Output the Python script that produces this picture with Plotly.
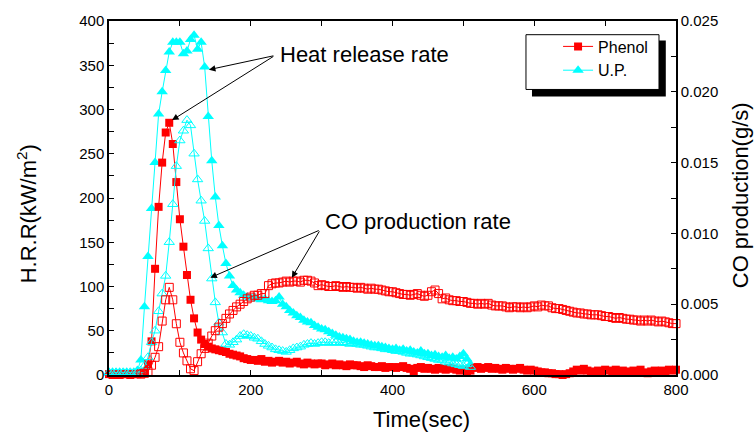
import plotly.graph_objects as go

# ---------------- data ----------------
# sampling every 5 s; each row below = 10 samples (50 s)
phenol_hrr = [
    1, 0, 1, 0, 1, 1, 0, 1, 1, 2,
    3, 12, 38, 120, 190, 240, 274, 285, 261, 218,
    176, 145, 113, 85, 64, 48, 40, 35, 32, 30,
    29, 28, 27, 26, 24, 23, 22, 21, 19, 18,
    17, 17, 16, 18, 15, 16, 14, 15, 16, 14,
    15, 13, 14, 15, 13, 12, 14, 13, 12, 13,
    13, 11, 12, 13, 11, 12, 11, 10, 12, 11,
    11, 10, 9, 11, 10, 9, 9, 10, 8, 9,
    9, 8, 9, 10, 8, 7, 3, 8, 9, 7,
    8, 7, 6, 8, 7, 6, 8, 7, 6, 5,
    6, 4, 5, 8, 9, 7, 8, 9, 7, 8,
    7, 6, 8, 7, 6, 7, 8, 6, 5, 6,
    5, 4, 3, 3, 2, 2, 1, 1, 0, 1,
    2, 4, 6, 5, 7, 5, 4, 3, 5, 4,
    6, 5, 4, 6, 3, 5, 4, 3, 5, 4,
    6, 3, 2, 4, 5, 3, 5, 4, 6, 5,
    6,
]

up_hrr = [
    2, 3, 2, 3, 2, 3, 2, 3, 5, 17,
    77, 134, 188, 240, 295, 320, 344, 365, 376, 376,
    376, 363, 366, 379, 384, 368, 376, 348, 292, 242,
    201, 169, 146, 126, 112, 101, 96, 93, 90, 88,
    87, 88, 86, 85, 86, 84, 83, 84, 88, 80,
    77, 73, 70, 67, 65, 62, 60, 59, 56, 54,
    52, 51, 49, 47, 45, 43, 42, 41, 40, 38,
    37, 37, 36, 35, 34, 33, 33, 32, 31, 30,
    29, 30, 28, 29, 27, 28, 26, 25, 27, 24,
    24, 22, 23, 21, 20, 22, 19, 20, 18, 21,
    24, 18, 12,
]

phenol_co = [
    -0.00012, -0.00012, -0.00019, -0.00019, -0.00012, -0.00019, -0.00012, -0.00012, -0.00006, 0.00006,
    0.00012, 0.00025, 0.00069, 0.00125, 0.00200, 0.00381, 0.00531, 0.00619, 0.00531, 0.00362,
    0.00231, 0.00156, 0.00100, 0.00044, 0.00031, 0.00094, 0.00150, 0.00188, 0.00225, 0.00275,
    0.00313, 0.00338, 0.00363, 0.00400, 0.00431, 0.00456, 0.00481, 0.00500, 0.00519, 0.00538,
    0.00550, 0.00563, 0.00563, 0.00575, 0.00575, 0.00631, 0.00644, 0.00650, 0.00650, 0.00656,
    0.00663, 0.00656, 0.00663, 0.00663, 0.00656, 0.00669, 0.00669, 0.00663, 0.00650, 0.00631,
    0.00638, 0.00631, 0.00625, 0.00625, 0.00631, 0.00625, 0.00619, 0.00625, 0.00619, 0.00619,
    0.00613, 0.00619, 0.00613, 0.00606, 0.00613, 0.00606, 0.00606, 0.00600, 0.00594, 0.00588,
    0.00588, 0.00581, 0.00575, 0.00569, 0.00569, 0.00563, 0.00569, 0.00575, 0.00563, 0.00556,
    0.00563, 0.00588, 0.00600, 0.00575, 0.00538, 0.00544, 0.00531, 0.00525, 0.00525, 0.00519,
    0.00519, 0.00513, 0.00506, 0.00506, 0.00500, 0.00506, 0.00500, 0.00506, 0.00494, 0.00488,
    0.00488, 0.00488, 0.00481, 0.00475, 0.00481, 0.00481, 0.00475, 0.00481, 0.00475, 0.00481,
    0.00488, 0.00481, 0.00494, 0.00488, 0.00488, 0.00475, 0.00469, 0.00469, 0.00463, 0.00456,
    0.00450, 0.00444, 0.00438, 0.00438, 0.00431, 0.00431, 0.00425, 0.00425, 0.00425, 0.00419,
    0.00413, 0.00413, 0.00406, 0.00400, 0.00406, 0.00400, 0.00394, 0.00394, 0.00388, 0.00388,
    0.00381, 0.00388, 0.00381, 0.00388, 0.00381, 0.00375, 0.00381, 0.00375, 0.00369, 0.00363,
    0.00363,
]

up_co = [
    0.00019, 0.00012, 0.00019, 0.00012, 0.00019, 0.00012, 0.00019, 0.00012, 0.00019, 0.00031,
    0.00063, 0.00125, 0.00231, 0.00313, 0.00450, 0.00575, 0.00700, 0.00938, 0.01206, 0.01475,
    0.01656, 0.01725, 0.01800, 0.01763, 0.01563, 0.01381, 0.01231, 0.01088, 0.00894, 0.00681,
    0.00513, 0.00369, 0.00300, 0.00219, 0.00213, 0.00231, 0.00250, 0.00275, 0.00288, 0.00281,
    0.00275, 0.00263, 0.00256, 0.00238, 0.00219, 0.00206, 0.00194, 0.00181, 0.00175, 0.00169,
    0.00163, 0.00175, 0.00188, 0.00194, 0.00200, 0.00213, 0.00219, 0.00225, 0.00219, 0.00225,
    0.00231, 0.00231, 0.00225, 0.00231, 0.00231, 0.00225, 0.00231, 0.00225, 0.00219, 0.00225,
    0.00219, 0.00213, 0.00213, 0.00206, 0.00200, 0.00194, 0.00194, 0.00188, 0.00181, 0.00181,
    0.00175, 0.00169, 0.00169, 0.00163, 0.00156, 0.00150, 0.00150, 0.00144, 0.00138, 0.00131,
    0.00125, 0.00119, 0.00113, 0.00106, 0.00106, 0.00094, 0.00088, 0.00081, 0.00075, 0.00069,
    0.00063, 0.00075, 0.00056,
]

STEP = 5
t_phenol = [STEP * i for i in range(len(phenol_hrr))]
t_up = [STEP * i for i in range(len(up_hrr))]
t_phenol_co = [STEP * i for i in range(len(phenol_co))]
t_up_co = [STEP * i for i in range(len(up_co))]

x_ticks = [0, 200, 400, 600, 800]

RED = "#ff0000"
CYAN = "#00ffff"
FONT = "Arial, Liberation Sans, sans-serif"

fig = go.Figure()

fig.add_trace(go.Scatter(
    x=t_up_co, y=up_co, yaxis="y2", mode="lines+markers", showlegend=False,
    line=dict(color=CYAN, width=1), cliponaxis=False,
    marker=dict(symbol="triangle-up-open", size=9, color=CYAN, line=dict(width=1, color=CYAN)),
))
fig.add_trace(go.Scatter(
    x=t_phenol_co, y=phenol_co, yaxis="y2", mode="lines+markers", showlegend=False,
    line=dict(color=RED, width=1), cliponaxis=False,
    marker=dict(symbol="square-open", size=8, color=RED, line=dict(width=1, color=RED)),
))
fig.add_trace(go.Scatter(
    x=t_up, y=up_hrr, mode="lines+markers", name="U.P.",
    line=dict(color=CYAN, width=1), cliponaxis=False,
    marker=dict(symbol="triangle-up", size=10, color=CYAN, line=dict(width=0)),
))
fig.add_trace(go.Scatter(
    x=t_phenol, y=phenol_hrr, mode="lines+markers", name="Phenol",
    line=dict(color=RED, width=1), cliponaxis=False,
    marker=dict(symbol="square", size=8, color=RED, line=dict(width=0)),
))

axis_common = dict(
    showgrid=False, zeroline=False, showline=True, linecolor="black", linewidth=1.5,
    ticks="inside", ticklen=5, tickwidth=1, tickcolor="black",
    tickfont=dict(family=FONT, size=15, color="black"),
)

fig.update_layout(
    width=754, height=435,
    margin=dict(l=109, r=78, t=13, b=60),
    paper_bgcolor="white", plot_bgcolor="white",
    font=dict(family=FONT, color="black"),
    xaxis=dict(
        range=[0, 800], tickvals=x_ticks, mirror="ticks",
        minor=dict(dtick=100, ticks="inside", ticklen=5, tickcolor="black", showgrid=False),
        **axis_common,
    ),
    yaxis=dict(
        range=[0, 400], dtick=50,
        minor=dict(dtick=25, ticks="inside", ticklen=5, tickcolor="black", showgrid=False),
        **axis_common,
    ),
    yaxis2=dict(
        overlaying="y", side="right", range=[0, 0.025], dtick=0.005, tickformat=".3f",
        minor=dict(dtick=0.0025, ticks="inside", ticklen=5, tickcolor="black", showgrid=False),
        **axis_common,
    ),
    legend=dict(
        x=0.792, y=0.976, xanchor="left", yanchor="top",
        bgcolor="rgba(0,0,0,0)", borderwidth=0,
        font=dict(family=FONT, size=16, color="black"),
        traceorder="reversed",
    ),
    shapes=[
        dict(type="rect", xref="paper", yref="paper", x0=0.746, x1=0.982, y0=0.787, y1=0.945,
             fillcolor="black", line=dict(width=0), layer="above"),
        dict(type="rect", xref="paper", yref="paper", x0=0.7354, x1=0.970, y0=0.8066, y1=0.9613,
             fillcolor="white", line=dict(color="black", width=1), layer="above"),
    ],
    annotations=[
        # axis titles
        dict(x=0.552, y=-0.125, xref="paper", yref="paper", text="Time(sec)", showarrow=False,
             xanchor="center", yanchor="middle", font=dict(size=22, family=FONT)),
        dict(x=-0.145, y=0.456, xref="paper", yref="paper", text="H.R.R(kW/m<sup>2</sup>)",
             showarrow=False, textangle=-90, xanchor="center", yanchor="middle",
             font=dict(size=22, family=FONT)),
        dict(x=1.113, y=0.508, xref="paper", yref="paper", text="CO production(g/s)",
             showarrow=False, textangle=-90, xanchor="center", yanchor="middle",
             font=dict(size=22, family=FONT)),
        # callouts
        dict(x=238, y=362, xref="x", yref="y", text="Heat release rate", showarrow=False,
             xanchor="left", yanchor="middle", font=dict(size=22, family=FONT)),
        dict(x=141, y=345, ax=234, ay=361, xref="x", yref="y", axref="x", ayref="y",
             text="", showarrow=True, arrowhead=2, arrowsize=1.3, arrowwidth=1, arrowcolor="black"),
        dict(x=89, y=288, ax=234, ay=361, xref="x", yref="y", axref="x", ayref="y",
             text="", showarrow=True, arrowhead=2, arrowsize=1.3, arrowwidth=1, arrowcolor="black"),
        dict(x=302, y=173, xref="x", yref="y", text="CO production rate", showarrow=False,
             xanchor="left", yanchor="middle", font=dict(size=22, family=FONT)),
        dict(x=143, y=110, ax=298, ay=164, xref="x", yref="y", axref="x", ayref="y",
             text="", showarrow=True, arrowhead=2, arrowsize=1.3, arrowwidth=1, arrowcolor="black"),
        dict(x=258, y=110, ax=298, ay=164, xref="x", yref="y", axref="x", ayref="y",
             text="", showarrow=True, arrowhead=2, arrowsize=1.3, arrowwidth=1, arrowcolor="black"),
    ],
)

fig.write_html("out.html")
